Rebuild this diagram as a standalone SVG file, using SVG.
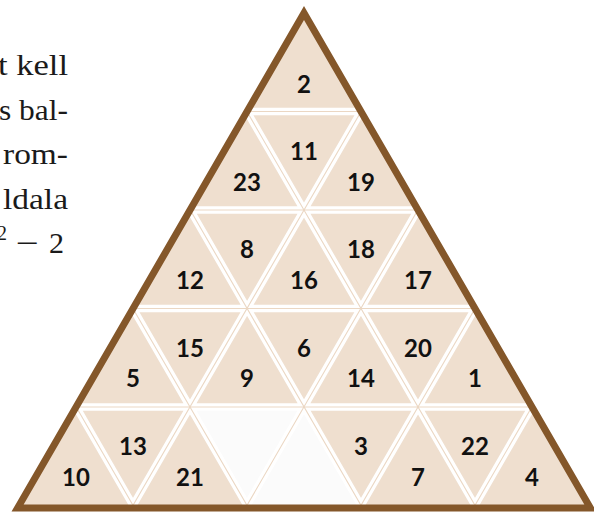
<svg xmlns="http://www.w3.org/2000/svg" width="594" height="512" viewBox="0 0 594 512">
<style>
.c{fill:#efdfcf}
.e{fill:#fbfbfb}
.n{font-family:Lato,"Noto Sans",sans-serif;font-weight:700;font-size:24px;fill:#111;text-anchor:middle}
.t{font-family:"Liberation Serif","DejaVu Serif",serif;font-size:30px;fill:#1a1a1a;text-anchor:end}
.wb{stroke:#fff;stroke-width:7.5;fill:none}
.tl{stroke:#ebd7c3;stroke-width:1.1;fill:none}
</style>
<defs>
<clipPath id="tri"><polygon points="304,13 19,505.5 589,505.5"/></clipPath>
<path id="grid" d="M237,111.5H371M180,210H428M123,308.5H485M66,407H542M128,514L366,103M242,514L423,201M356,514L480,300M470,514L537,398M138,514L71,398M252,514L128,300M366,514L185,201M480,514L242,103"/>
</defs>
<g id="text">
<text class="t" x="68" y="75" textLength="70" lengthAdjust="spacingAndGlyphs">t kell</text>
<text class="t" x="68" y="119.5" textLength="69" lengthAdjust="spacingAndGlyphs">s bal-</text>
<text class="t" x="68" y="164" textLength="65" lengthAdjust="spacingAndGlyphs">rom-</text>
<text class="t" x="68" y="208.5" textLength="65" lengthAdjust="spacingAndGlyphs">ldala</text>
<text class="t" x="-3" y="240" style="text-anchor:start;font-size:20px">2</text>
<text class="t" x="16" y="253" style="text-anchor:start" textLength="23" lengthAdjust="spacingAndGlyphs">−</text>
<text class="t" x="64" y="253">2</text>
</g>
<g id="r0u0"><polygon class="c" points="304,13 247,111.5 361,111.5"/><text class="n" x="304" y="92.5">2</text></g>
<g id="r1u0"><polygon class="c" points="247,111.5 190,210 304,210"/><text class="n" x="247" y="190.8">23</text></g>
<g id="r1i0"><polygon class="c" points="247,111.5 361,111.5 304,210"/><text class="n" x="304" y="160">11</text></g>
<g id="r1u1"><polygon class="c" points="361,111.5 304,210 418,210"/><text class="n" x="361" y="190.8">19</text></g>
<g id="r2u0"><polygon class="c" points="190,210 133,308.5 247,308.5"/><text class="n" x="190" y="289.1">12</text></g>
<g id="r2i0"><polygon class="c" points="190,210 304,210 247,308.5"/><text class="n" x="247" y="258.3">8</text></g>
<g id="r2u1"><polygon class="c" points="304,210 247,308.5 361,308.5"/><text class="n" x="304" y="289.1">16</text></g>
<g id="r2i1"><polygon class="c" points="304,210 418,210 361,308.5"/><text class="n" x="361" y="258.3">18</text></g>
<g id="r2u2"><polygon class="c" points="418,210 361,308.5 475,308.5"/><text class="n" x="418" y="289.1">17</text></g>
<g id="r3u0"><polygon class="c" points="133,308.5 76,407 190,407"/><text class="n" x="133" y="387.4">5</text></g>
<g id="r3i0"><polygon class="c" points="133,308.5 247,308.5 190,407"/><text class="n" x="190" y="356.6">15</text></g>
<g id="r3u1"><polygon class="c" points="247,308.5 190,407 304,407"/><text class="n" x="247" y="387.4">9</text></g>
<g id="r3i1"><polygon class="c" points="247,308.5 361,308.5 304,407"/><text class="n" x="304" y="356.6">6</text></g>
<g id="r3u2"><polygon class="c" points="361,308.5 304,407 418,407"/><text class="n" x="361" y="387.4">14</text></g>
<g id="r3i2"><polygon class="c" points="361,308.5 475,308.5 418,407"/><text class="n" x="418" y="356.6">20</text></g>
<g id="r3u3"><polygon class="c" points="475,308.5 418,407 532,407"/><text class="n" x="475" y="387.4">1</text></g>
<g id="r4u0"><polygon class="c" points="76,407 17.6,508 133,508"/><text class="n" x="76" y="485.7">10</text></g>
<g id="r4i0"><polygon class="c" points="76,407 190,407 133,505.5"/><text class="n" x="133" y="454.9">13</text></g>
<g id="r4u1"><polygon class="c" points="190,407 133,508 247,508"/><text class="n" x="190" y="485.7">21</text></g>
<g id="r4i1"><polygon class="e" points="190,407 304,407 247,505.5"/></g>
<g id="r4u2"><polygon class="e" points="304,407 247,508 361,508"/></g>
<g id="r4i2"><polygon class="c" points="304,407 418,407 361,505.5"/><text class="n" x="361" y="454.9">3</text></g>
<g id="r4u3"><polygon class="c" points="418,407 361,508 475,508"/><text class="n" x="418" y="485.7">7</text></g>
<g id="r4i3"><polygon class="c" points="418,407 532,407 475,505.5"/><text class="n" x="475" y="454.9">22</text></g>
<g id="r4u4"><polygon class="c" points="532,407 475,508 590.4,508"/><text class="n" x="532" y="485.7">4</text></g>
<g id="connectors" clip-path="url(#tri)">
<use href="#grid" class="wb"/>
<use href="#grid" class="tl"/>
</g>
<g id="border"><polygon points="304,13 17.6,508 590.4,508" fill="none" stroke="#84572a" stroke-width="7" stroke-linejoin="miter"/></g>
</svg>
